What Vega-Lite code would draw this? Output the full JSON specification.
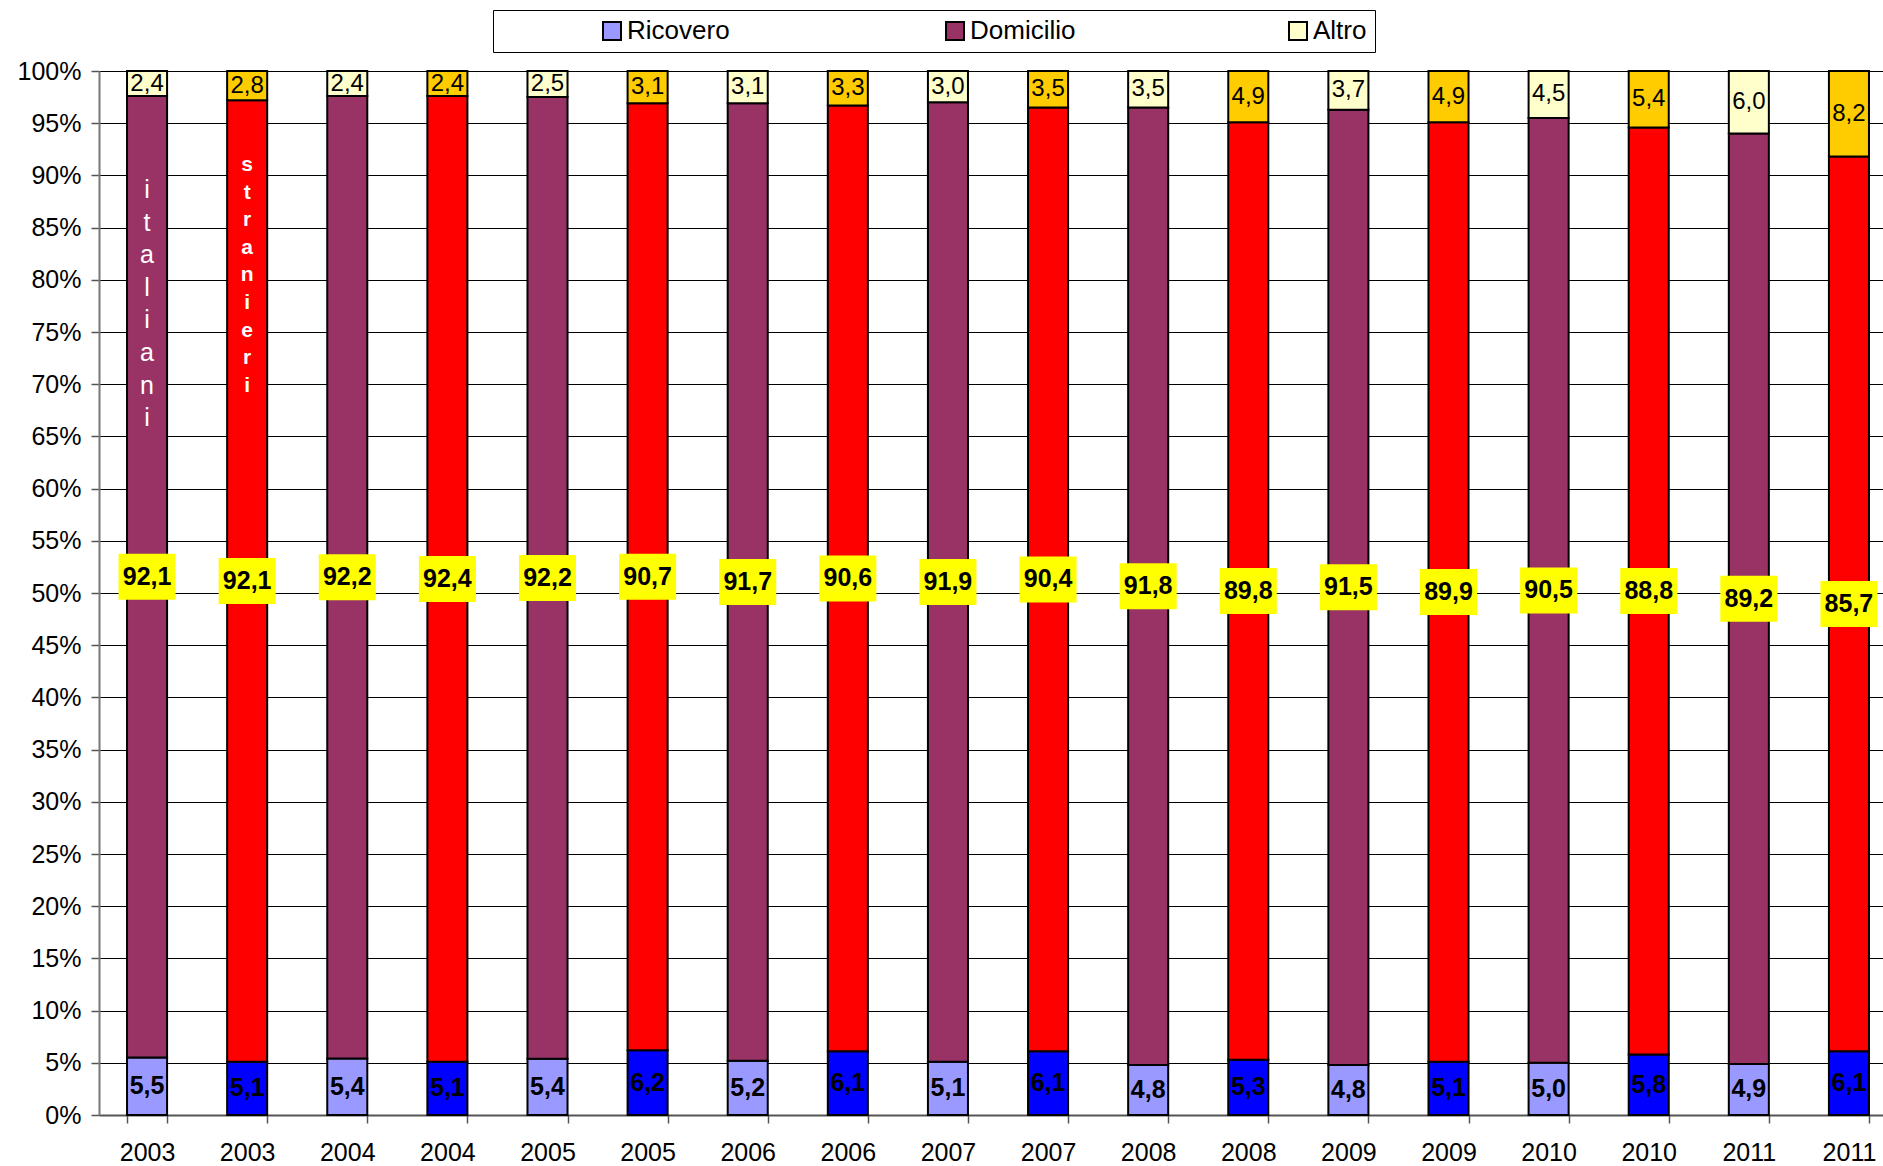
{
  "$schema": "https://vega.github.io/schema/vega-lite/v6.json",
  "width": 1784,
  "height": 1044,
  "autosize": {"type": "none"},
  "padding": {"left": 99, "top": 71, "right": 0, "bottom": 51},
  "background": "white",
  "config": {
    "locale": {"number": {"decimal": ",", "thousands": ".", "grouping": [3], "currency": ["", " €"]}},
    "font": "Liberation Sans",
    "view": {"stroke": null}
  },
  "datasets": {
    "quote": [
      {"barra": "2003 italiani", "gruppo": "italiani", "voce": "Ricovero", "valore": 5.5},
      {"barra": "2003 italiani", "gruppo": "italiani", "voce": "Domicilio", "valore": 92.1},
      {"barra": "2003 italiani", "gruppo": "italiani", "voce": "Altro", "valore": 2.4},
      {"barra": "2003 stranieri", "gruppo": "stranieri", "voce": "Ricovero", "valore": 5.1},
      {"barra": "2003 stranieri", "gruppo": "stranieri", "voce": "Domicilio", "valore": 92.1},
      {"barra": "2003 stranieri", "gruppo": "stranieri", "voce": "Altro", "valore": 2.8},
      {"barra": "2004 italiani", "gruppo": "italiani", "voce": "Ricovero", "valore": 5.4},
      {"barra": "2004 italiani", "gruppo": "italiani", "voce": "Domicilio", "valore": 92.2},
      {"barra": "2004 italiani", "gruppo": "italiani", "voce": "Altro", "valore": 2.4},
      {"barra": "2004 stranieri", "gruppo": "stranieri", "voce": "Ricovero", "valore": 5.1},
      {"barra": "2004 stranieri", "gruppo": "stranieri", "voce": "Domicilio", "valore": 92.4},
      {"barra": "2004 stranieri", "gruppo": "stranieri", "voce": "Altro", "valore": 2.4},
      {"barra": "2005 italiani", "gruppo": "italiani", "voce": "Ricovero", "valore": 5.4},
      {"barra": "2005 italiani", "gruppo": "italiani", "voce": "Domicilio", "valore": 92.2},
      {"barra": "2005 italiani", "gruppo": "italiani", "voce": "Altro", "valore": 2.5},
      {"barra": "2005 stranieri", "gruppo": "stranieri", "voce": "Ricovero", "valore": 6.2},
      {"barra": "2005 stranieri", "gruppo": "stranieri", "voce": "Domicilio", "valore": 90.7},
      {"barra": "2005 stranieri", "gruppo": "stranieri", "voce": "Altro", "valore": 3.1},
      {"barra": "2006 italiani", "gruppo": "italiani", "voce": "Ricovero", "valore": 5.2},
      {"barra": "2006 italiani", "gruppo": "italiani", "voce": "Domicilio", "valore": 91.7},
      {"barra": "2006 italiani", "gruppo": "italiani", "voce": "Altro", "valore": 3.1},
      {"barra": "2006 stranieri", "gruppo": "stranieri", "voce": "Ricovero", "valore": 6.1},
      {"barra": "2006 stranieri", "gruppo": "stranieri", "voce": "Domicilio", "valore": 90.6},
      {"barra": "2006 stranieri", "gruppo": "stranieri", "voce": "Altro", "valore": 3.3},
      {"barra": "2007 italiani", "gruppo": "italiani", "voce": "Ricovero", "valore": 5.1},
      {"barra": "2007 italiani", "gruppo": "italiani", "voce": "Domicilio", "valore": 91.9},
      {"barra": "2007 italiani", "gruppo": "italiani", "voce": "Altro", "valore": 3.0},
      {"barra": "2007 stranieri", "gruppo": "stranieri", "voce": "Ricovero", "valore": 6.1},
      {"barra": "2007 stranieri", "gruppo": "stranieri", "voce": "Domicilio", "valore": 90.4},
      {"barra": "2007 stranieri", "gruppo": "stranieri", "voce": "Altro", "valore": 3.5},
      {"barra": "2008 italiani", "gruppo": "italiani", "voce": "Ricovero", "valore": 4.8},
      {"barra": "2008 italiani", "gruppo": "italiani", "voce": "Domicilio", "valore": 91.8},
      {"barra": "2008 italiani", "gruppo": "italiani", "voce": "Altro", "valore": 3.5},
      {"barra": "2008 stranieri", "gruppo": "stranieri", "voce": "Ricovero", "valore": 5.3},
      {"barra": "2008 stranieri", "gruppo": "stranieri", "voce": "Domicilio", "valore": 89.8},
      {"barra": "2008 stranieri", "gruppo": "stranieri", "voce": "Altro", "valore": 4.9},
      {"barra": "2009 italiani", "gruppo": "italiani", "voce": "Ricovero", "valore": 4.8},
      {"barra": "2009 italiani", "gruppo": "italiani", "voce": "Domicilio", "valore": 91.5},
      {"barra": "2009 italiani", "gruppo": "italiani", "voce": "Altro", "valore": 3.7},
      {"barra": "2009 stranieri", "gruppo": "stranieri", "voce": "Ricovero", "valore": 5.1},
      {"barra": "2009 stranieri", "gruppo": "stranieri", "voce": "Domicilio", "valore": 89.9},
      {"barra": "2009 stranieri", "gruppo": "stranieri", "voce": "Altro", "valore": 4.9},
      {"barra": "2010 italiani", "gruppo": "italiani", "voce": "Ricovero", "valore": 5.0},
      {"barra": "2010 italiani", "gruppo": "italiani", "voce": "Domicilio", "valore": 90.5},
      {"barra": "2010 italiani", "gruppo": "italiani", "voce": "Altro", "valore": 4.5},
      {"barra": "2010 stranieri", "gruppo": "stranieri", "voce": "Ricovero", "valore": 5.8},
      {"barra": "2010 stranieri", "gruppo": "stranieri", "voce": "Domicilio", "valore": 88.8},
      {"barra": "2010 stranieri", "gruppo": "stranieri", "voce": "Altro", "valore": 5.4},
      {"barra": "2011 italiani", "gruppo": "italiani", "voce": "Ricovero", "valore": 4.9},
      {"barra": "2011 italiani", "gruppo": "italiani", "voce": "Domicilio", "valore": 89.2},
      {"barra": "2011 italiani", "gruppo": "italiani", "voce": "Altro", "valore": 6.0},
      {"barra": "2011 stranieri", "gruppo": "stranieri", "voce": "Ricovero", "valore": 6.1},
      {"barra": "2011 stranieri", "gruppo": "stranieri", "voce": "Domicilio", "valore": 85.7},
      {"barra": "2011 stranieri", "gruppo": "stranieri", "voce": "Altro", "valore": 8.2}
    ],
    "gruppi": [
      {"barra": "2003 italiani", "parola": "italiani"},
      {"barra": "2003 stranieri", "parola": "stranieri"}
    ]
  },
  "encoding": {
    "x": {
      "field": "barra",
      "type": "nominal",
      "scale": {
        "domain": ["2003 italiani", "2003 stranieri", "2004 italiani", "2004 stranieri", "2005 italiani", "2005 stranieri", "2006 italiani", "2006 stranieri", "2007 italiani", "2007 stranieri", "2008 italiani", "2008 stranieri", "2009 italiani", "2009 stranieri", "2010 italiani", "2010 stranieri", "2011 italiani", "2011 stranieri"],
        "range": [0, 1798],
        "paddingInner": 0.6,
        "paddingOuter": 0.28
      },
      "axis": {
        "title": null,
        "labelExpr": "substring(datum.label, 0, 4)",
        "labelAngle": 0,
        "tickBand": "extent",
        "tickSize": 8,
        "tickColor": "#555555",
        "tickWidth": 1.5,
        "domainColor": "#555555",
        "domainWidth": 2,
        "labelFontSize": 25,
        "labelColor": "black",
        "labelPadding": 17,
        "grid": false
      }
    }
  },
  "layer": [
    {
      "data": {"name": "quote"},
      "transform": [
        {"calculate": "indexof(['Ricovero', 'Domicilio', 'Altro'], datum.voce)", "as": "ordine"},
        {"calculate": "datum.gruppo === 'stranieri' ? datum.voce + ' (stranieri)' : datum.voce", "as": "serie"},
        {"stack": "valore", "groupby": ["barra"], "sort": [{"field": "ordine", "order": "ascending"}], "offset": "normalize", "as": ["v0", "v1"]},
        {"calculate": "(datum.v0 + datum.v1) / 2", "as": "centro"}
      ],
      "layer": [
        {
          "mark": {"type": "bar", "stroke": "black", "strokeWidth": 2},
          "encoding": {
            "y": {
              "field": "v0",
              "type": "quantitative",
              "scale": {"domain": [0, 1], "nice": false},
              "axis": {
                "title": null,
                "format": ".0%",
                "values": [0, 0.05, 0.1, 0.15, 0.2, 0.25, 0.3, 0.35, 0.4, 0.45, 0.5, 0.55, 0.6, 0.65, 0.7, 0.75, 0.8, 0.85, 0.9, 0.95, 1],
                "grid": true,
                "gridColor": "black",
                "gridWidth": 1,
                "tickSize": 8,
                "tickColor": "#555555",
                "tickWidth": 1.5,
                "domainColor": "#777777",
                "domainWidth": 2,
                "labelFontSize": 25,
                "labelColor": "black",
                "labelPadding": 10
              }
            },
            "y2": {"field": "v1"},
            "fill": {
              "field": "serie",
              "type": "nominal",
              "scale": {
                "domain": ["Ricovero", "Domicilio", "Altro", "Ricovero (stranieri)", "Domicilio (stranieri)", "Altro (stranieri)"],
                "range": ["#9999FF", "#993366", "#FFFFCC", "#0000FF", "#FF0000", "#FFCC00"]
              },
              "legend": {
                "values": ["Ricovero", "Domicilio", "Altro"],
                "title": null,
                "orient": "none",
                "legendX": 394,
                "legendY": -61,
                "direction": "horizontal",
                "columns": 3,
                "gridAlign": "all",
                "columnPadding": 111,
                "padding": 8,
                "strokeColor": "black",
                "fillColor": "white",
                "symbolType": "square",
                "symbolSize": 324,
                "symbolStrokeColor": "black",
                "symbolStrokeWidth": 2,
                "symbolOffset": 98,
                "labelFontSize": 26,
                "labelFont": "Liberation Sans",
                "labelColor": "black",
                "labelOffset": 2,
                "labelLimit": 300
              }
            }
          }
        },
        {
          "transform": [{"filter": "datum.voce === 'Domicilio'"}],
          "mark": {"type": "point", "shape": "M-1.24,-1H1.24V1H-1.24Z", "filled": true, "fill": "#FFFF00", "opacity": 1, "size": 2116, "strokeWidth": 0},
          "encoding": {"y": {"field": "centro", "type": "quantitative"}}
        },
        {
          "transform": [{"filter": "datum.voce !== 'Altro'"}],
          "mark": {"type": "text", "fontSize": 25, "fontWeight": "bold", "color": "black", "baseline": "middle", "align": "center"},
          "encoding": {
            "y": {"field": "centro", "type": "quantitative"},
            "text": {"field": "valore", "type": "quantitative", "format": ".1f"}
          }
        },
        {
          "transform": [{"filter": "datum.voce === 'Altro'"}],
          "mark": {"type": "text", "fontSize": 24, "color": "black", "baseline": "middle", "align": "center"},
          "encoding": {
            "y": {"field": "centro", "type": "quantitative"},
            "text": {"field": "valore", "type": "quantitative", "format": ".1f"}
          }
        }
      ]
    },
    {
      "data": {"name": "gruppi"},
      "transform": [
        {"filter": "datum.parola === 'italiani'"},
        {"calculate": "join(split(datum.parola, ''), '\\n')", "as": "lettere"}
      ],
      "mark": {"type": "text", "fontSize": 25, "color": "white", "lineBreak": "\n", "lineHeight": 32.6, "baseline": "middle", "align": "center"},
      "encoding": {
        "y": {"datum": 0.886, "type": "quantitative"},
        "text": {"field": "lettere", "type": "nominal"}
      }
    },
    {
      "data": {"name": "gruppi"},
      "transform": [
        {"filter": "datum.parola === 'stranieri'"},
        {"calculate": "join(split(datum.parola, ''), '\\n')", "as": "lettere"}
      ],
      "mark": {"type": "text", "fontSize": 21, "fontWeight": "bold", "color": "white", "lineBreak": "\n", "lineHeight": 27.6, "baseline": "middle", "align": "center"},
      "encoding": {
        "y": {"datum": 0.91, "type": "quantitative"},
        "text": {"field": "lettere", "type": "nominal"}
      }
    }
  ]
}
